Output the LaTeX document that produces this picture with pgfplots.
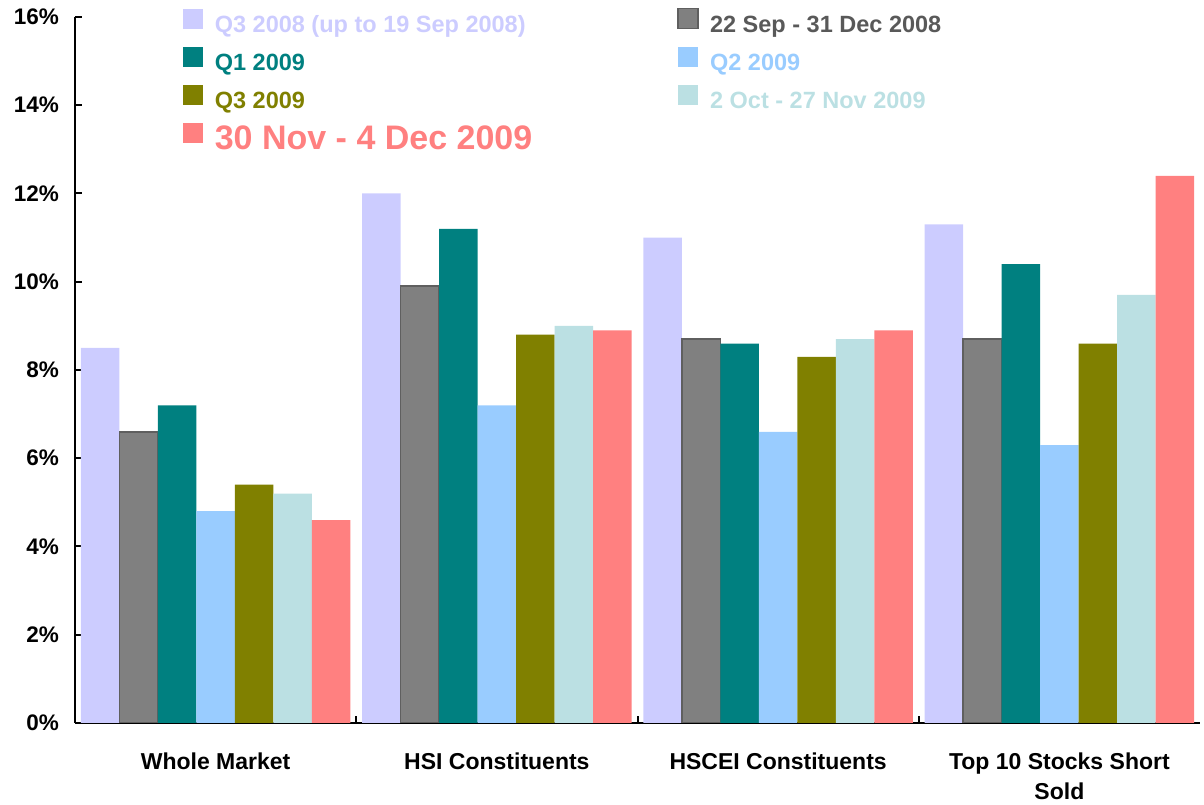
\documentclass[border=0pt]{standalone}
\usepackage{pgfplots}
\pgfplotsset{compat=1.18}
\usepackage{fontspec}
\setmainfont{Liberation Sans}
\definecolor{cA}{HTML}{CCCCFF}
\definecolor{cB}{HTML}{808080}
\definecolor{cBo}{HTML}{5F5F5F}
\definecolor{cBt}{HTML}{595959}
\definecolor{cC}{HTML}{008080}
\definecolor{cD}{HTML}{99CCFF}
\definecolor{cE}{HTML}{808000}
\definecolor{cF}{HTML}{BBE0E3}
\definecolor{cG}{HTML}{FF8080}
\pgfplotsset{mylegend/.style 2 args={legend image code/.code={%
  \path[fill=#1, draw=#2, line width=1.5pt] (0pt,-4pt) rectangle (20pt,16pt);
  \path[draw=none, fill=none] (0pt,0pt) -- (30pt,0pt);}}}
\begin{document}
\begin{tikzpicture}
\begin{axis}[
  scale only axis, width=1125pt, height=706pt,
  ybar=0pt, bar width=0.137,
  xmin=-0.5, xmax=3.5, ymin=0, ymax=16,
  axis x line*=bottom, axis y line*=left,
  x axis line style={-, line width=2.5pt},
  y axis line style={-, line width=2.5pt},
  tick align=inside,
  major tick length=7pt,
  tick style={line width=2pt, black},
  xtick={0.5,1.5,2.5}, xticklabels={,,},
  extra x ticks={0,1,2,3},
  extra x tick labels={Whole Market, HSI Constituents, HSCEI Constituents, {Top 10 Stocks Short\\Sold}},
  extra x tick style={major tick length=0pt},
  x tick label style={font=\fontsize{23}{30}\selectfont\bfseries, align=center, yshift=-26pt},
  ytick={0,2,4,6,8,10,12,14,16},
  yticklabels={0\%,2\%,4\%,6\%,8\%,10\%,12\%,14\%,16\%},
  y tick label style={font=\fontsize{22.5}{26}\selectfont\bfseries, inner sep=0pt, xshift=-16pt},
  legend columns=2,
  legend cell align=left,
  legend style={draw=none, fill=none, at={(axis description cs:0.093,1.016)}, anchor=north west,
    font=\fontsize{23.5}{28}\selectfont\bfseries, row sep=11pt,
    /tikz/every even column/.append style={column sep=143pt}},
]
\addplot[fill=cA, draw=none, mylegend={cA}{none}] coordinates {(0,8.5) (1,12.0) (2,11.0) (3,11.3)};
\addlegendentry{\textcolor{cA}{Q3 2008 (up to 19 Sep 2008)}}
\addplot[fill=cB, draw=cBo, line width=1.5pt, mylegend={cB}{cBo}] coordinates {(0,6.6) (1,9.9) (2,8.7) (3,8.7)};
\addlegendentry{\textcolor{cBt}{22 Sep - 31 Dec 2008}}
\addplot[fill=cC, draw=none, mylegend={cC}{none}] coordinates {(0,7.2) (1,11.2) (2,8.6) (3,10.4)};
\addlegendentry{\textcolor{cC}{Q1 2009}}
\addplot[fill=cD, draw=none, mylegend={cD}{none}] coordinates {(0,4.8) (1,7.2) (2,6.6) (3,6.3)};
\addlegendentry{\textcolor{cD}{Q2 2009}}
\addplot[fill=cE, draw=none, mylegend={cE}{none}] coordinates {(0,5.4) (1,8.8) (2,8.3) (3,8.6)};
\addlegendentry{\textcolor{cE}{Q3 2009}}
\addplot[fill=cF, draw=none, mylegend={cF}{none}] coordinates {(0,5.2) (1,9.0) (2,8.7) (3,9.7)};
\addlegendentry{\textcolor{cF}{2 Oct - 27 Nov 2009}}
\addplot[fill=cG, draw=none, mylegend={cG}{none}] coordinates {(0,4.6) (1,8.9) (2,8.9) (3,12.4)};
\addlegendentry{{\fontsize{34}{40}\selectfont\textcolor{cG}{30 Nov - 4 Dec 2009}}}
\coordinate (O) at (rel axis cs:0,0);
\end{axis}
\path (O) ++(-75pt,-82pt) rectangle ++(1204pt,805pt);
\end{tikzpicture}
\end{document}
